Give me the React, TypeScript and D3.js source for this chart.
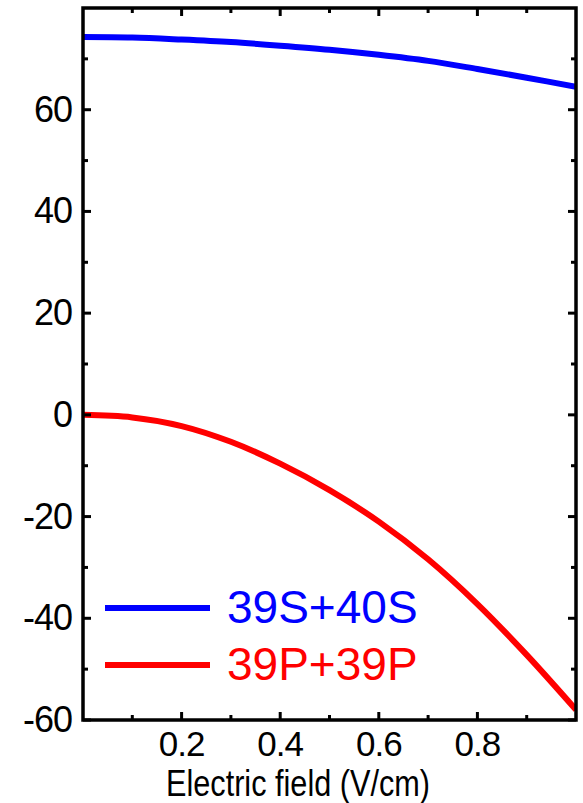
import React from 'react';
import * as d3 from 'd3';

// electric field (V/cm)
const fieldValues = [0, 0.1, 0.2, 0.3, 0.4, 0.5, 0.6, 0.7, 0.8, 0.9, 1.0];
// energy shift of each pair state
const shiftSS = [74.3, 74.2, 73.8, 73.3, 72.6, 71.8, 70.8, 69.6, 68.0, 66.3, 64.5];
const shiftPP = [0, -0.5, -2.2, -5.3, -9.6, -14.8, -21.0, -28.4, -37.2, -47.2, -58.0];

const seriesNames = ['39S+40S', '39P+39P'];
const seriesColors = ['#0000ff', '#ff0000'];

const xTicks = [0.2, 0.4, 0.6, 0.8];
const xMinorTicks = [0.1, 0.3, 0.5, 0.7, 0.9];
const yTicks = [-60, -40, -20, 0, 20, 40, 60];
const yMinorTicks = [-50, -30, -10, 10, 30, 50, 70];

const W = 583;
const H = 803;
const margin = { left: 83, right: 7, top: 8, bottom: 83 };
const font = 'Liberation Sans, Arial, Helvetica, sans-serif';

export default function App() {
  const x = d3.scaleLinear().domain([0, 1]).range([margin.left, W - margin.right]);
  const y = d3.scaleLinear().domain([-60, 80]).range([H - margin.bottom, margin.top]);

  const line = d3
    .line<[number, number]>()
    .x(d => x(d[0]))
    .y(d => y(d[1]))
    .curve(d3.curveCatmullRom);

  const series = [shiftSS, shiftPP].map(vals => fieldValues.map((f, i) => [f, vals[i]] as [number, number]));

  const x0 = x(0), x1 = x(1), y0 = y(-60), y1 = y(80);
  const major = 8;
  const minor = 5;

  return (
    <svg width={W} height={H} style={{ position: 'absolute', left: 0, top: 0 }} fontFamily={font}>
      <rect width={W} height={H} fill="#fff" />
      <defs>
        <clipPath id="plot">
          <rect x={x0} y={y1} width={x1 - x0} height={y0 - y1} />
        </clipPath>
      </defs>

      <g clipPath="url(#plot)">
        {series.map((s, i) => (
          <path key={i} d={line(s) || ''} fill="none" stroke={seriesColors[i]} strokeWidth={6} />
        ))}
      </g>

      {/* ticks, inward on all four sides */}
      <g stroke="#000" strokeWidth={3}>
        {xTicks.map(t => (
          <g key={'xt' + t}>
            <line x1={x(t)} x2={x(t)} y1={y0} y2={y0 - major} />
            <line x1={x(t)} x2={x(t)} y1={y1} y2={y1 + major} />
          </g>
        ))}
        {xMinorTicks.map(t => (
          <g key={'xm' + t}>
            <line x1={x(t)} x2={x(t)} y1={y0} y2={y0 - minor} />
            <line x1={x(t)} x2={x(t)} y1={y1} y2={y1 + minor} />
          </g>
        ))}
        {yTicks.map(t => (
          <g key={'yt' + t}>
            <line x1={x0} x2={x0 + major} y1={y(t)} y2={y(t)} />
            <line x1={x1} x2={x1 - major} y1={y(t)} y2={y(t)} />
          </g>
        ))}
        {yMinorTicks.map(t => (
          <g key={'ym' + t}>
            <line x1={x0} x2={x0 + minor} y1={y(t)} y2={y(t)} />
            <line x1={x1} x2={x1 - minor} y1={y(t)} y2={y(t)} />
          </g>
        ))}
      </g>

      <rect x={x0} y={y1} width={x1 - x0} height={y0 - y1} fill="none" stroke="#000" strokeWidth={3.5} />

      {/* tick labels */}
      <g fontSize={36} fill="#000">
        {yTicks.map(t => (
          <text key={'yl' + t} x={x0 - 11} y={y(t) + 12} textAnchor="end" letterSpacing={-1}>
            {String(t)}
          </text>
        ))}
      </g>
      <g fontSize={35} fill="#000">
        {xTicks.map(t => (
          <text key={'xl' + t} x={x(t)} y={y0 + 36} textAnchor="middle" letterSpacing={-1}>
            {t.toFixed(1)}
          </text>
        ))}
      </g>

      <text x={166} y={796} fontSize={36} textLength={264} lengthAdjust="spacingAndGlyphs" fill="#000">
        Electric field (V/cm)
      </text>

      {/* legend */}
      {seriesNames.map((name, i) => (
        <g key={name}>
          <line x1={105} x2={210} y1={608 + i * 57} y2={608 + i * 57} stroke={seriesColors[i]} strokeWidth={6} />
          <text x={227} y={623 + i * 57} fontSize={46} fill={seriesColors[i]}>
            {name}
          </text>
        </g>
      ))}
    </svg>
  );
}
